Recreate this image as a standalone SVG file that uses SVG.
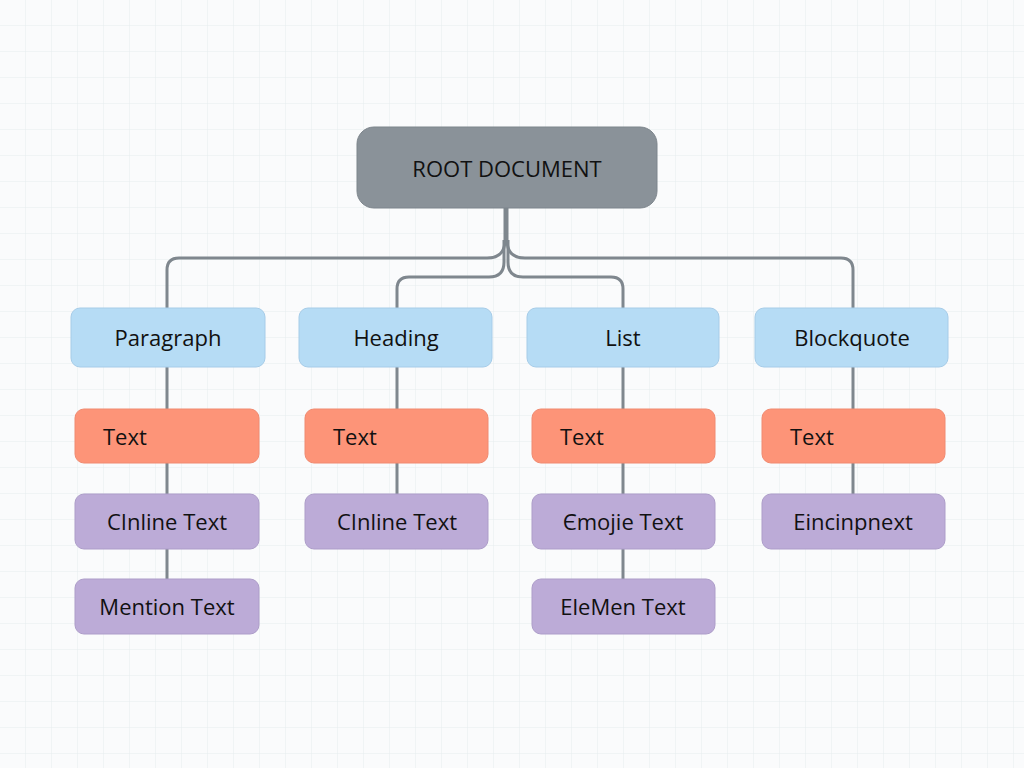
<svg xmlns="http://www.w3.org/2000/svg" width="1024" height="768" viewBox="0 0 1024 768">
<defs>
<pattern id="grid" width="26" height="26" patternUnits="userSpaceOnUse"><path d="M26 0V26H0" fill="none" stroke="#e6ecef" stroke-width="1"/></pattern>
<style>
.t{font-family:"Open Sans","Liberation Sans",sans-serif;font-size:22px;fill:#111;dominant-baseline:central}
.c{text-anchor:middle}
.b{fill:#b6dcf5;stroke:#a6cce8}
.o{fill:#fd9478;stroke:#f08a70}
.p{fill:#bcabd7;stroke:#ad9dc9}
.ln{fill:none;stroke:#7f878e;stroke-width:3}
</style>
</defs>
<rect width="1024" height="768" fill="#fafbfc"/>
<rect width="1024" height="768" fill="url(#grid)"/>
<g id="connectors" class="ln">
<path d="M505 208V240Q505 258 487 258H179Q167 258 167 270V308"/>
<path d="M507 208V240Q507 258 525 258H841Q853 258 853 270V308"/>
<path d="M504 240V262Q504 277 489 277H409Q397 277 397 289V308"/>
<path d="M508 240V262Q508 277 523 277H611Q623 277 623 289V308"/>
<path d="M167 367V579M397 367V494M623 367V579M853 367V494"/>
</g>
<g id="root"><rect x="357" y="127" width="300" height="81" rx="17" fill="#8a9299" stroke="#7d858c"/><text class="t c" x="507" y="168" font-size="24">ROOT DOCUMENT</text></g>
<g id="paragraph"><rect class="b" x="71" y="308" width="194" height="59" rx="9"/><text class="t c" x="168" y="337">Paragraph</text></g>
<g id="heading"><rect class="b" x="299" y="308" width="193" height="59" rx="9"/><text class="t c" x="396" y="337">Heading</text></g>
<g id="list"><rect class="b" x="527" y="308" width="192" height="59" rx="9"/><text class="t c" x="623" y="337">List</text></g>
<g id="blockquote"><rect class="b" x="755" y="308" width="193" height="59" rx="9"/><text class="t c" x="852" y="337">Blockquote</text></g>
<g id="text1"><rect class="o" x="75" y="409" width="184" height="54" rx="9"/><text class="t" x="103" y="436">Text</text></g>
<g id="text2"><rect class="o" x="305" y="409" width="183" height="54" rx="9"/><text class="t" x="333" y="436">Text</text></g>
<g id="text3"><rect class="o" x="532" y="409" width="183" height="54" rx="9"/><text class="t" x="560" y="436">Text</text></g>
<g id="text4"><rect class="o" x="762" y="409" width="183" height="54" rx="9"/><text class="t" x="790" y="436">Text</text></g>
<g id="inline1"><rect class="p" x="75" y="494" width="184" height="55" rx="9"/><text class="t c" x="167" y="521">CInline Text</text></g>
<g id="inline2"><rect class="p" x="305" y="494" width="183" height="55" rx="9"/><text class="t c" x="397" y="521">CInline Text</text></g>
<g id="emojie"><rect class="p" x="532" y="494" width="183" height="55" rx="9"/><text class="t c" x="623" y="521">Єmojie Text</text></g>
<g id="eincinpnext"><rect class="p" x="762" y="494" width="183" height="55" rx="9"/><text class="t c" x="853" y="521">Eincinpnext</text></g>
<g id="mention"><rect class="p" x="75" y="579" width="184" height="55" rx="9"/><text class="t c" x="167" y="606">Mention Text</text></g>
<g id="elemen"><rect class="p" x="532" y="579" width="183" height="55" rx="9"/><text class="t c" x="623" y="606">EleMen Text</text></g>
</svg>
